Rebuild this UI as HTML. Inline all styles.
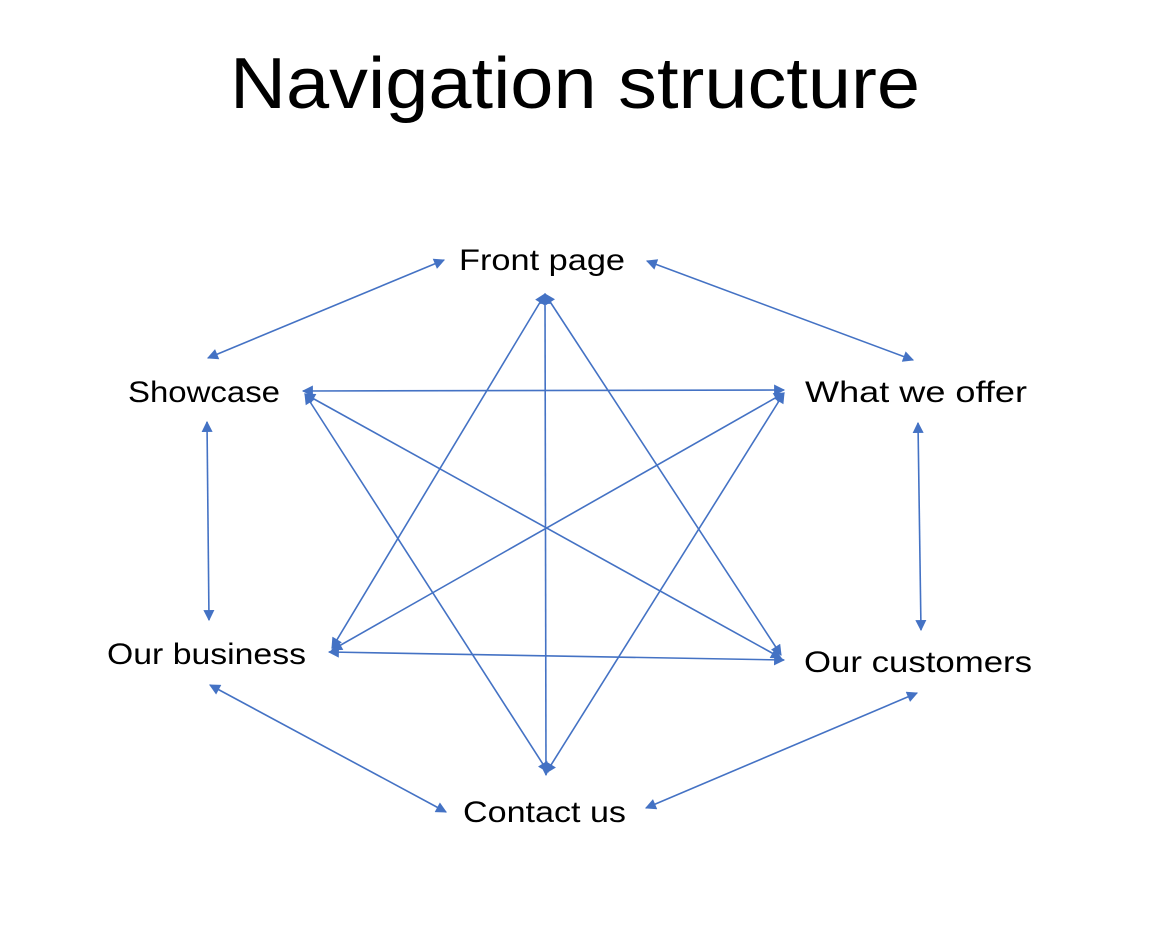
<!DOCTYPE html>
<html><head><meta charset="utf-8"><style>
html,body{margin:0;padding:0;background:#fff;}
svg{display:block;}
text{font-family:"Liberation Sans",sans-serif;fill:#000;}
</style></head><body>
<svg width="1152" height="944" viewBox="0 0 1152 944" xmlns="http://www.w3.org/2000/svg">
<defs>
<marker id="a" viewBox="0 0 10 10" refX="9" refY="5" markerWidth="12" markerHeight="11" markerUnits="userSpaceOnUse" orient="auto-start-reverse">
<path d="M0,0 L10,5 L0,10 z" fill="#4472C4"/>
</marker>
</defs>
<text x="575" y="108" font-size="72" text-anchor="middle" textLength="690" lengthAdjust="spacingAndGlyphs">Navigation structure</text>
<g font-size="30">
<text x="459" y="270" textLength="166" lengthAdjust="spacingAndGlyphs">Front page</text>
<text x="128" y="402" textLength="152" lengthAdjust="spacingAndGlyphs">Showcase</text>
<text x="805" y="402" textLength="222" lengthAdjust="spacingAndGlyphs">What we offer</text>
<text x="107" y="664" textLength="199" lengthAdjust="spacingAndGlyphs">Our business</text>
<text x="804" y="672" textLength="228" lengthAdjust="spacingAndGlyphs">Our customers</text>
<text x="463" y="822" textLength="163" lengthAdjust="spacingAndGlyphs">Contact us</text>
</g>
<g stroke="#4472C4" stroke-width="1.6" fill="none" marker-start="url(#a)" marker-end="url(#a)">
<line x1="545" y1="294" x2="546" y2="775"/>
<line x1="545" y1="294" x2="332" y2="648"/>
<line x1="545" y1="294" x2="781" y2="655"/>
<line x1="303" y1="391" x2="784" y2="390"/>
<line x1="305" y1="394" x2="781" y2="658"/>
<line x1="305" y1="394" x2="548" y2="772"/>
<line x1="784" y1="393" x2="332" y2="650"/>
<line x1="784" y1="393" x2="546" y2="773"/>
<line x1="329" y1="652" x2="784" y2="660"/>
<line x1="444" y1="260" x2="208" y2="358"/>
<line x1="647" y1="261" x2="913" y2="360"/>
<line x1="207" y1="422" x2="209" y2="620"/>
<line x1="918" y1="423" x2="921" y2="630"/>
<line x1="210" y1="685" x2="446" y2="812"/>
<line x1="646" y1="808" x2="917" y2="693"/>
</g>
</svg>
</body></html>
